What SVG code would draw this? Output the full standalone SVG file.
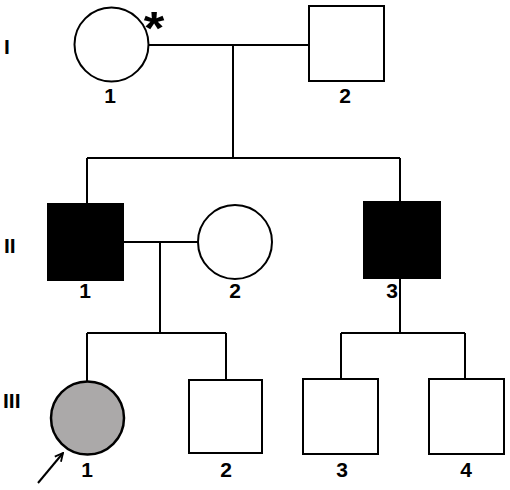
<svg xmlns="http://www.w3.org/2000/svg" width="510" height="490" viewBox="0 0 510 490">
<style>
.s{fill:#fff;stroke:#000;stroke-width:2}
.a{fill:#000;stroke:#000;stroke-width:2}
.g{fill:#aba9a9;stroke:#000;stroke-width:2.5}
.l{fill:none;stroke:#000;stroke-width:2}
text{font-family:"Liberation Sans",Arial,sans-serif;font-weight:bold;font-size:21px;fill:#000}
.n{text-anchor:middle}
.ast{font-size:46px}
</style>
<defs>
<marker id="ah" markerWidth="10" markerHeight="10" refX="9" refY="5" orient="auto" markerUnits="userSpaceOnUse">
<path d="M1,1 L9,5 L1,9" fill="none" stroke="#000" stroke-width="1.8"/>
</marker>
</defs>
<rect width="510" height="490" fill="#fff"/>
<g id="gen-labels">
<text x="4" y="54">I</text>
<text x="4" y="253">II</text>
<text x="3" y="408">III</text>
</g>
<g id="connectors">
<path class="l" d="M149,45 H309 M233,45 V158 M87,158 H400 M87,158 V204 M400,158 V202"/>
<path class="l" d="M123,242 H198 M160,242 V333 M87,333 H226 M87,333 V381 M226,333 V380"/>
<path class="l" d="M400,278 V333 M341,333 H465 M341,333 V379 M465,333 V379"/>
<line class="l" x1="38" y1="483" x2="63" y2="453" stroke-width="1.8" marker-end="url(#ah)"/>
</g>
<g id="I-1">
<circle class="s" cx="111.5" cy="44.5" r="37"/>
<text class="n" x="110" y="103">1</text>
<text class="n ast" x="154" y="44" transform="translate(154,0) scale(1.15,1) translate(-154,0)">*</text>
</g>
<g id="I-2">
<rect class="s" x="309" y="6" width="75" height="75"/>
<text class="n" x="345" y="103">2</text>
</g>
<g id="II-1">
<rect class="a" x="48" y="204" width="75" height="76"/>
<text class="n" x="85" y="298">1</text>
</g>
<g id="II-2">
<circle class="s" cx="235" cy="242" r="37"/>
<text class="n" x="235" y="298">2</text>
</g>
<g id="II-3">
<rect class="a" x="364" y="202" width="76" height="76"/>
<text class="n" x="392" y="298">3</text>
</g>
<g id="III-1">
<circle class="g" cx="87.5" cy="418" r="36.5"/>
<text class="n" x="87" y="477">1</text>
</g>
<g id="III-2">
<rect class="s" x="189" y="380" width="73" height="73"/>
<text class="n" x="226" y="477">2</text>
</g>
<g id="III-3">
<rect class="s" x="303" y="379" width="75" height="75"/>
<text class="n" x="342" y="477">3</text>
</g>
<g id="III-4">
<rect class="s" x="429" y="379" width="75" height="75"/>
<text class="n" x="466" y="477">4</text>
</g>
</svg>
